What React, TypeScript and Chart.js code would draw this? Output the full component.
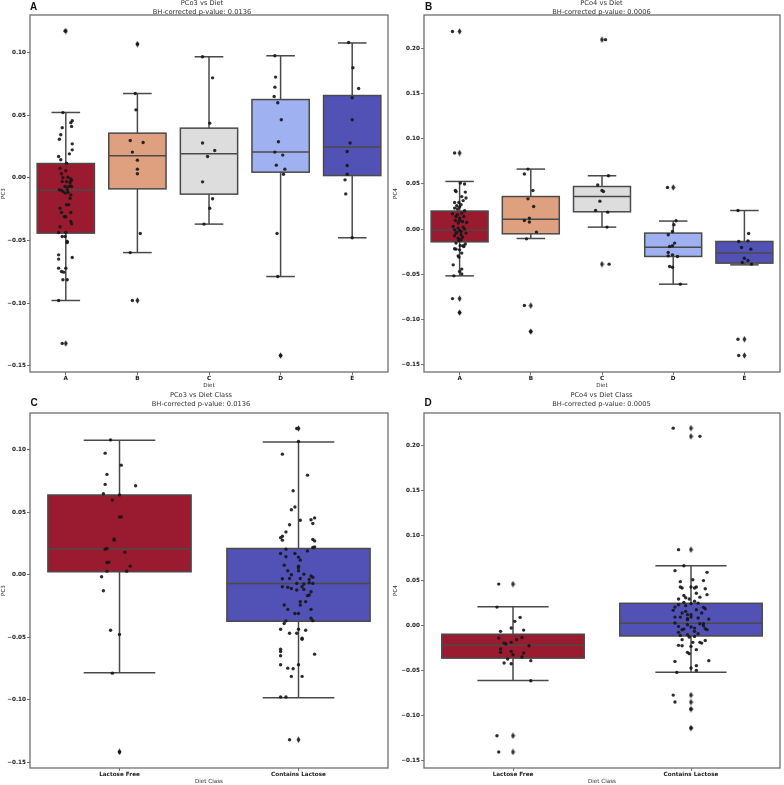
import React, { useEffect, useRef } from 'react';
import { Chart, registerables } from 'chart.js';
Chart.register(...registerables);

// ---------- categories ----------
const diets = ['A', 'B', 'C', 'D', 'E'];
const dietClasses = ['Lactose Free', 'Contains Lactose'];

// ---------- tick values ----------
const pc3Ticks = [-0.15, -0.1, -0.05, 0, 0.05, 0.1];
const pc4Ticks = [-0.15, -0.1, -0.05, 0, 0.05, 0.1, 0.15, 0.2];

// ---------- PC3 values per diet ----------
const pc3A = [0.117, 0.052, 0.0455, 0.044, 0.041, 0.040, 0.0343, 0.0308, 0.0271, 0.0223, 0.0191, 0.017, 0.0144, 0.0117, 0.0077, 0.0056, 0.0032, 0.0, 0.0005, -0.001, -0.002, -0.003, -0.003, -0.0037, -0.0064, -0.0074, -0.0069, -0.0069, -0.0096, -0.010, -0.011, -0.0096, -0.0122, -0.0117, -0.0136, -0.0162, -0.0215, -0.0215, -0.0242, -0.0277, -0.0277, -0.031, -0.031, -0.0348, -0.0367, -0.039, -0.0436, -0.0436, -0.0468, -0.0468, -0.0508, -0.0516, -0.0614, -0.0648, -0.0635, -0.072, -0.072, -0.0747, -0.0752, -0.0813, -0.0813, -0.0978, -0.132];
const pc3B = [0.1066, 0.0672, 0.0542, 0.0297, 0.0282, 0.0205, 0.0141, 0.0069, 0.0032, -0.0444, -0.0596, -0.0978];
const pc3C = [0.0965, 0.0797, 0.0436, 0.0277, 0.0218, 0.017, -0.0032, -0.0167, -0.0242, -0.0369];
const pc3D = [0.0973, 0.0803, 0.0723, 0.0648, 0.0598, 0.0463, 0.0287, 0.0205, 0.0181, 0.0101, 0.0069, 0.0029, -0.0444, -0.0787, -0.1417];
const pc3E = [0.1079, 0.0877, 0.0712, 0.0638, 0.0463, 0.0277, 0.021, 0.0098, 0.0029, -0.0016, -0.0128, -0.0478];

// ---------- PC4 values per diet ----------
const pc4A = [0.219, 0.0843, 0.051, 0.050, 0.0428, 0.0417, 0.041, 0.036, 0.0344, 0.0316, 0.0295, 0.0295, 0.027, 0.0258, 0.0244, 0.0233, 0.0222, 0.0203, 0.0177, 0.017, 0.0159, 0.014, 0.014, 0.0122, 0.0095, 0.0095, 0.0085, 0.0073, 0.0067, 0.0029, 0.0022, 0.0011, 0.0, -0.0008, -0.0015, -0.0027, -0.0038, -0.0044, -0.0045, -0.0063, -0.0074, -0.0089, -0.01, -0.0119, -0.0126, -0.0155, -0.0165, -0.0185, -0.0185, -0.0193, -0.0218, -0.0222, -0.023, -0.0266, -0.0296, -0.031, -0.0396, -0.0443, -0.047, -0.0496, -0.0518, -0.077, -0.0925];
const pc4B = [0.0665, 0.061, 0.0428, 0.0335, 0.025, 0.0122, 0.0095, 0.0078, -0.0033, -0.0108, -0.0847, -0.1135];
const pc4C = [0.2099, 0.0591, 0.0488, 0.0428, 0.0417, 0.031, 0.0206, 0.0188, 0.0022, -0.0388];
const pc4D = [0.0461, 0.0092, 0.0048, -0.0026, -0.0063, -0.0155, -0.0193, -0.0185, -0.0259, -0.0296, -0.0285, -0.0303, -0.0414, -0.0422, -0.061];
const pc4E = [0.0206, -0.0049, -0.0137, -0.013, -0.0204, -0.0222, -0.0322, -0.0348, -0.037, -0.0388, -0.122, -0.140];

// ---------- strip-plot jitter (fraction of category width) ----------
const jit3A = [-0.01, -0.04, 0.09, 0.07, 0.08, -0.05, -0.07, -0.09, 0.09, 0.09, 0.05, -0.1, -0.07, 0.01, -0.08, 0.0, -0.06, -0.04, 0.03, 0.07, 0.08, -0.05, 0.01, 0.06, 0.06, 0.03, 0.08, -0.01, -0.09, -0.06, -0.04, 0.02, -0.01, 0.03, 0.07, 0.06, 0.01, 0.04, -0.08, -0.06, 0.07, -0.02, 0.0, 0.07, 0.08, -0.08, -0.1, 0.0, -0.05, -0.01, 0.02, 0.02, -0.1, -0.1, 0.09, -0.1, 0.0, -0.06, -0.03, -0.04, 0.02, -0.1, -0.05];
const jit3B = [0.0, -0.03, -0.02, -0.1, 0.08, -0.07, 0.0, 0.0, 0.0, 0.04, -0.1, -0.07];
const jit3C = [-0.09, 0.05, 0.01, -0.09, 0.08, -0.02, -0.09, 0.05, 0.01, -0.07];
const jit3D = [-0.08, -0.07, -0.08, -0.09, -0.04, 0.01, -0.03, -0.08, 0.03, -0.06, 0.06, 0.04, -0.05, -0.04, 0.0];
const jit3E = [-0.05, 0.01, 0.09, 0.0, 0.0, -0.03, -0.07, -0.07, -0.07, -0.1, -0.09, 0.0];
const jit4A = [-0.1, -0.07, 0.01, 0.07, -0.06, -0.05, 0.08, 0.03, 0.09, 0.05, -0.01, -0.07, 0.02, -0.04, 0.0, -0.07, -0.03, 0.07, 0.03, -0.1, -0.03, -0.05, 0.06, 0.0, -0.06, 0.0, 0.04, 0.1, -0.02, -0.09, 0.05, -0.02, 0.07, -0.07, 0.0, 0.02, -0.04, 0.09, -0.05, 0.02, -0.07, 0.04, -0.02, 0.02, -0.01, -0.05, 0.08, 0.01, 0.05, 0.06, -0.07, -0.05, 0.0, 0.03, -0.02, -0.01, -0.09, 0.03, 0.0, 0.03, -0.08, -0.1, 0.0];
const jit4B = [-0.04, -0.09, 0.03, -0.04, 0.04, -0.02, -0.09, -0.02, 0.08, -0.06, -0.09, 0.0];
const jit4C = [0.05, 0.09, -0.06, 0.0, 0.02, -0.03, -0.09, 0.08, 0.07, 0.1];
const jit4D = [-0.08, 0.04, 0.01, -0.01, -0.07, 0.02, -0.05, -0.01, -0.07, -0.07, -0.01, 0.06, -0.05, -0.01, 0.1];
const jit4E = [-0.09, 0.06, -0.08, 0.05, -0.04, 0.09, 0.0, 0.05, -0.03, 0.1, -0.09, -0.08];

// ---------- box statistics ----------
const pc3DietLo = [-0.0978, -0.0596, -0.0369, -0.0787, -0.0478];
const pc3DietQ1 = [-0.0441, -0.0088, -0.013, 0.0045, 0.0018];
const pc3DietMed = [-0.0098, 0.0175, 0.0191, 0.0205, 0.0245];
const pc3DietQ3 = [0.0114, 0.0356, 0.0396, 0.0624, 0.0656];
const pc3DietHi = [0.0521, 0.0672, 0.0965, 0.0973, 0.1075];

const pc4DietLo = [-0.0518, -0.0104, 0.0022, -0.061, -0.0396];
const pc4DietQ1 = [-0.0141, -0.0052, 0.0192, -0.0303, -0.0377];
const pc4DietMed = [-0.0011, 0.011, 0.0361, -0.02, -0.0266];
const pc4DietQ3 = [0.020, 0.0361, 0.0472, -0.0044, -0.0137];
const pc4DietHi = [0.0528, 0.0665, 0.0591, 0.0089, 0.0206];

const pc3ClassLo = [-0.0784, -0.0983];
const pc3ClassQ1 = [0.0024, -0.0372];
const pc3ClassMed = [0.0207, -0.0069];
const pc3ClassQ3 = [0.0638, 0.021];
const pc3ClassHi = [0.1077, 0.1063];

const pc4ClassLo = [-0.0608, -0.0516];
const pc4ClassQ1 = [-0.036, -0.0114];
const pc4ClassMed = [-0.0217, 0.0026];
const pc4ClassQ3 = [-0.0095, 0.0248];
const pc4ClassHi = [0.021, 0.0664];

// ---------- colours ----------
const dietColors = ['#9a1b30', '#dfa07f', '#dcdddc', '#9fb1f0', '#5251b5'];
const classColors = ['#9a1b30', '#5251b5'];
const lineColor = '#4a4a4a';

function makeDiamond(): HTMLCanvasElement {
  const c = document.createElement('canvas');
  c.width = 5;
  c.height = 7;
  const g = c.getContext('2d')!;
  g.fillStyle = '#2a2a2a';
  g.beginPath();
  g.moveTo(2.5, 0.3);
  g.lineTo(4.5, 3.5);
  g.lineTo(2.5, 6.7);
  g.lineTo(0.5, 3.5);
  g.closePath();
  g.fill();
  return c;
}

const fmt = (v: number) => {
  const r = Math.round(v * 100) / 100;
  if (Math.abs(r) < 1e-9) return '0.00';
  return (r < 0 ? '\u2212' : '') + Math.abs(r).toFixed(2);
};

type PanelProps = {
  left: number; top: number; width: number; height: number;
  cats: string[];
  groups: number[][];
  jitters: number[][];
  lo: number[]; q1: number[]; med: number[]; q3: number[]; hi: number[];
  colors: string[];
  yMin: number; yMax: number; yTicks: number[];
  yTitle: string; xTitle: string;
  title1: string; title2: string; letter: string;
  yW: number; xH: number; padTop: number; padRight: number; xTitlePad: number;
  titleX: number; letterX: number; letterY: number;
};

function Panel(p: PanelProps) {
  const ref = useRef<HTMLCanvasElement | null>(null);
  useEffect(() => {
    if (!ref.current) return;
    const diamond = makeDiamond();
    const n = p.cats.length;
    const tol = 0.002;
    const pts: { x: number; y: number }[] = [];
    const fl: { x: number; y: number }[] = [];
    p.groups.forEach((vals, i) => {
      vals.forEach((v, k) => {
        pts.push({ x: i + (p.jitters[i][k] ?? 0), y: v });
        if (v > p.hi[i] + tol || v < p.lo[i] - tol) fl.push({ x: i, y: v });
      });
    });

    const boxPlugin = {
      id: 'boxes' + p.letter,
      beforeDatasetsDraw(chart: any) {
        const ctx = chart.ctx;
        const xs = chart.scales.x;
        const ys = chart.scales.y;
        ctx.save();
        ctx.lineWidth = 1.5;
        ctx.strokeStyle = lineColor;
        const line = (x1: number, y1: number, x2: number, y2: number) => {
          ctx.beginPath();
          ctx.moveTo(x1, y1);
          ctx.lineTo(x2, y2);
          ctx.stroke();
        };
        for (let i = 0; i < n; i++) {
          const xl = xs.getPixelForValue(i - 0.4);
          const xr = xs.getPixelForValue(i + 0.4);
          const xc = xs.getPixelForValue(i);
          const cl = xs.getPixelForValue(i - 0.2);
          const cr = xs.getPixelForValue(i + 0.2);
          const yq1 = ys.getPixelForValue(p.q1[i]);
          const yq3 = ys.getPixelForValue(p.q3[i]);
          const ym = ys.getPixelForValue(p.med[i]);
          const ylo = ys.getPixelForValue(p.lo[i]);
          const yhi = ys.getPixelForValue(p.hi[i]);
          line(xc, yq3, xc, yhi);
          line(xc, yq1, xc, ylo);
          line(cl, yhi, cr, yhi);
          line(cl, ylo, cr, ylo);
          ctx.fillStyle = p.colors[i];
          ctx.fillRect(xl, yq3, xr - xl, yq1 - yq3);
          ctx.strokeRect(xl, yq3, xr - xl, yq1 - yq3);
          line(xl, ym, xr, ym);
        }
        ctx.restore();
      },
      afterDraw(chart: any) {
        const ctx = chart.ctx;
        const a = chart.chartArea;
        ctx.save();
        ctx.strokeStyle = '#6f6f6f';
        ctx.lineWidth = 1.3;
        ctx.strokeRect(a.left, a.top, a.right - a.left, a.bottom - a.top);
        ctx.fillStyle = '#333';
        ctx.font = '6.7px "DejaVu Sans"';
        ctx.textAlign = 'center';
        ctx.textBaseline = 'middle';
        ctx.fillText(p.title1, p.titleX, 3.6);
        ctx.fillText(p.title2, p.titleX, 12.2);
        ctx.fillStyle = '#111';
        ctx.font = 'bold 10px "Liberation Sans"';
        ctx.textAlign = 'left';
        ctx.fillText(p.letter, p.letterX, p.letterY);
        ctx.restore();
      },
    };

    const tickFont = { size: 5.7, weight: 'bold' as const, family: 'DejaVu Sans' };
    const titleFont = { size: 5.6, family: 'DejaVu Sans' };
    const gridOpts = { display: true, drawOnChartArea: false, drawTicks: true, tickLength: 3, color: '#555', lineWidth: 0.8 };

    const chart = new Chart(ref.current, {
      type: 'scatter',
      data: {
        datasets: [
          {
            data: pts,
            pointRadius: 1.7,
            pointHoverRadius: 1.7,
            pointBackgroundColor: 'rgba(22,22,22,0.9)',
            pointBorderWidth: 0,
          } as any,
          {
            data: fl,
            pointStyle: diamond,
            pointRadius: 3,
            pointHoverRadius: 3,
          } as any,
        ],
      },
      options: {
        responsive: false,
        animation: false,
        devicePixelRatio: 1,
        events: [],
        layout: { padding: { left: 0, right: p.padRight, top: p.padTop, bottom: 0 } },
        plugins: { legend: { display: false }, tooltip: { enabled: false }, title: { display: false } },
        scales: {
          x: {
            type: 'linear',
            min: -0.5,
            max: n - 0.5,
            afterBuildTicks: (s: any) => { s.ticks = p.cats.map((_, i) => ({ value: i })); },
            afterFit: (s: any) => { s.height = p.xH; },
            ticks: {
              callback: (v: any) => p.cats[Math.round(Number(v))] ?? '',
              font: tickFont,
              color: '#222',
              padding: 0,
              autoSkip: false,
              maxRotation: 0,
            },
            grid: gridOpts,
            border: { display: false },
            title: { display: true, text: p.xTitle, font: titleFont, color: '#333', padding: { top: 0, bottom: p.xTitlePad } },
          },
          y: {
            type: 'linear',
            min: p.yMin,
            max: p.yMax,
            afterBuildTicks: (s: any) => { s.ticks = p.yTicks.map((v) => ({ value: v })); },
            afterFit: (s: any) => { s.width = p.yW; },
            ticks: {
              callback: (v: any) => fmt(Number(v)),
              font: tickFont,
              color: '#222',
              padding: 1,
              autoSkip: false,
            },
            grid: gridOpts,
            border: { display: false },
            title: { display: true, text: p.yTitle, font: titleFont, color: '#333', padding: 0 },
          },
        } as any,
      },
      plugins: [boxPlugin as any],
    });
    return () => chart.destroy();
  }, []);
  return (
    <canvas
      ref={ref}
      width={p.width}
      height={p.height}
      style={{ position: 'absolute', left: p.left, top: p.top, width: p.width, height: p.height, display: 'block' }}
    />
  );
}

export default function App() {
  const dietPC3 = [pc3A, pc3B, pc3C, pc3D, pc3E];
  const dietPC4 = [pc4A, pc4B, pc4C, pc4D, pc4E];
  const jitD3 = [jit3A, jit3B, jit3C, jit3D, jit3E];
  const jitD4 = [jit4A, jit4B, jit4C, jit4D, jit4E];
  const classPC3 = [[...pc3D, ...pc3E], [...pc3A, ...pc3B, ...pc3C]];
  const classPC4 = [[...pc4D, ...pc4E], [...pc4A, ...pc4B, ...pc4C]];
  const jitC3 = [[...jit3D, ...jit3E], [...jit3A, ...jit3B, ...jit3C]];
  const jitC4 = [[...jit4D, ...jit4E], [...jit4A, ...jit4B, ...jit4C]];

  return (
    <div style={{ position: 'absolute', left: 0, top: 0, width: 784, height: 785, background: '#fff', overflow: 'hidden' }}>
      <Panel
        left={0} top={0} width={392} height={392}
        cats={diets} groups={dietPC3} jitters={jitD3}
        lo={pc3DietLo} q1={pc3DietQ1} med={pc3DietMed} q3={pc3DietQ3} hi={pc3DietHi}
        colors={dietColors} yMin={-0.1548} yMax={0.1298} yTicks={pc3Ticks}
        yTitle="PC3" xTitle="Diet" title1="PCo3 vs Diet" title2="BH-corrected p-value: 0.0136" letter="A"
        yW={30} xH={20} padTop={15} padRight={4} xTitlePad={3}
        titleX={202} letterX={30} letterY={7.5}
      />
      <Panel
        left={392} top={0} width={392} height={392}
        cats={diets} groups={dietPC4} jitters={jitD4}
        lo={pc4DietLo} q1={pc4DietQ1} med={pc4DietMed} q3={pc4DietQ3} hi={pc4DietHi}
        colors={dietColors} yMin={-0.1583} yMax={0.2372} yTicks={pc4Ticks}
        yTitle="PC4" xTitle="Diet" title1="PCo4 vs Diet" title2="BH-corrected p-value: 0.0006" letter="B"
        yW={32} xH={20} padTop={15} padRight={1} xTitlePad={3}
        titleX={209.5} letterX={33} letterY={7}
      />
      <Panel
        left={0} top={392} width={392} height={393}
        cats={dietClasses} groups={classPC3} jitters={jitC3}
        lo={pc3ClassLo} q1={pc3ClassQ1} med={pc3ClassMed} q3={pc3ClassQ3} hi={pc3ClassHi}
        colors={classColors} yMin={-0.1546} yMax={0.1294} yTicks={pc3Ticks}
        yTitle="PC3" xTitle="Diet Class" title1="PCo3 vs Diet Class" title2="BH-corrected p-value: 0.0136" letter="C"
        yW={30} xH={17} padTop={21} padRight={4} xTitlePad={0}
        titleX={201} letterX={30.5} letterY={11}
      />
      <Panel
        left={392} top={392} width={392} height={393}
        cats={dietClasses} groups={classPC4} jitters={jitC4}
        lo={pc4ClassLo} q1={pc4ClassQ1} med={pc4ClassMed} q3={pc4ClassQ3} hi={pc4ClassHi}
        colors={classColors} yMin={-0.1578} yMax={0.2358} yTicks={pc4Ticks}
        yTitle="PC4" xTitle="Diet Class" title1="PCo4 vs Diet Class" title2="BH-corrected p-value: 0.0005" letter="D"
        yW={32} xH={17} padTop={21} padRight={1} xTitlePad={0}
        titleX={209.5} letterX={32.5} letterY={11.5}
      />
    </div>
  );
}
